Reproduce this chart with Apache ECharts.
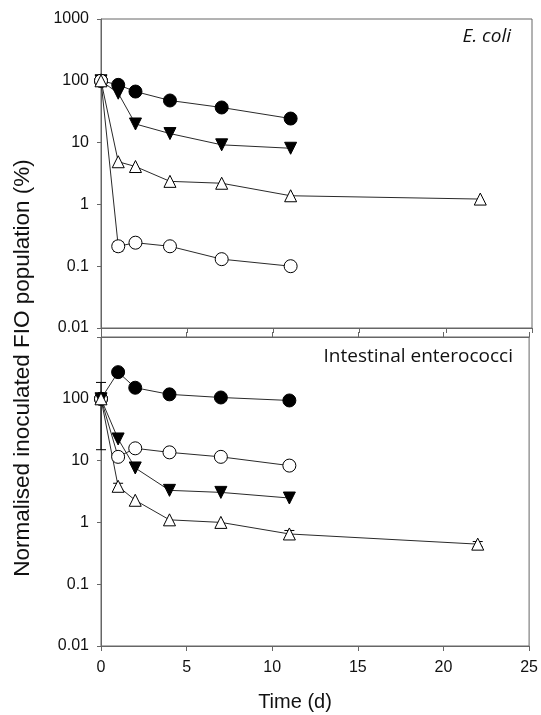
<!DOCTYPE html>
<html>
<head>
<meta charset="utf-8">
<script src="https://cdn.jsdelivr.net/npm/echarts@6/dist/echarts.min.js"></script>
<style>
html,body{margin:0;padding:0;background:#fff;}
#chart{width:541px;height:715px;}
</style>
</head>
<body>
<div id="chart"></div>
<script>
// ---- data ----
const days = [0, 1, 2, 4, 7, 11];
const daysLong = [0, 1, 2, 4, 7, 11, 22];
const xTicks = [0, 5, 10, 15, 20, 25];
const yTickLabels = ['0.01', '0.1', '1', '10', '100', '1000'];

// E. coli panel
const ecoliFilledCircle = [100, 86, 67, 48, 37, 24.5];
const ecoliFilledTriangle = [100, 63, 20, 14, 9.2, 8.1];
const ecoliOpenTriangle = [100, 4.9, 4.1, 2.36, 2.2, 1.38, 1.22];
const ecoliOpenCircle = [100, 0.21, 0.24, 0.21, 0.13, 0.1];
const ecoliErrors = [[1, 0.175, 0.25]];

// Intestinal enterococci panel
const entFilledCircle = [100, 270, 151, 118, 105, 94];
const entOpenCircle = [100, 11.5, 15.8, 13.6, 11.5, 8.3];
const entFilledTriangle = [100, 22.4, 7.6, 3.3, 3.06, 2.48];
const entOpenTriangle = [100, 3.84, 2.28, 1.1, 1.0, 0.65, 0.445];
const entErrors = [[0, 15, 184], [1, 3.4, 4.3], [11, 0.57, 0.74], [22, 0.40, 0.49]];

const panelTitles = ['E. coli', 'Intestinal enterococci'];
const yTitle = 'Normalised inoculated FIO population (%)';
const xTitle = 'Time (d)';

// ---- chart ----
const chart = echarts.init(document.getElementById('chart'));
const FONT = '"Liberation Sans", Arial, sans-serif';
const LINE = '#2a2a2a';
const FRAME = '#666';

function pairs(xs, ys) { return ys.map((v, i) => [xs[i], v]); }

function lineSeries(xs, ys, gi, symbol, filled, rotate, size) {
  return {
    type: 'line',
    xAxisIndex: gi === 0 ? 0 : 1,
    yAxisIndex: gi,
    data: pairs(xs, ys),
    symbol: symbol,
    symbolSize: size,
    symbolRotate: rotate,
    showAllSymbol: true,
    lineStyle: { color: LINE, width: 1 },
    itemStyle: { color: filled ? '#000' : '#fff', borderColor: '#000', borderWidth: 1 },
    emphasis: { disabled: true },
    animation: false,
    z: 3
  };
}

function errorSeries(data, gi) {
  return {
    type: 'custom',
    xAxisIndex: gi === 0 ? 0 : 1,
    yAxisIndex: gi,
    data: data,
    z: 2,
    animation: false,
    renderItem: function (params, api) {
      const x = api.value(0);
      const lo = api.coord([x, api.value(1)]);
      const hi = api.coord([x, api.value(2)]);
      const w = 5;
      const st = { stroke: '#000', lineWidth: 1 };
      return {
        type: 'group',
        children: [
          { type: 'line', shape: { x1: lo[0], y1: lo[1], x2: hi[0], y2: hi[1] }, style: st },
          { type: 'line', shape: { x1: lo[0] - w, y1: lo[1], x2: lo[0] + w, y2: lo[1] }, style: st },
          { type: 'line', shape: { x1: hi[0] - w, y1: hi[1], x2: hi[0] + w, y2: hi[1] }, style: st }
        ]
      };
    }
  };
}

function yAxis(gi) {
  return {
    type: 'log',
    logBase: 10,
    gridIndex: gi,
    min: 0.01,
    max: 1000,
    axisLine: { show: true, lineStyle: { color: FRAME, width: 1 } },
    axisTick: { show: true, inside: false, length: 4, lineStyle: { color: FRAME } },
    minorTick: { show: false },
    splitLine: { show: false },
    axisLabel: {
      fontFamily: FONT, fontSize: 16, color: '#111', margin: 12,
      formatter: function (v, i) {
        const lab = yTickLabels[i];
        if (gi === 1 && lab === '1000') return '';
        return lab;
      }
    }
  };
}

function xAxis(gi, position, showLabels) {
  return {
    type: 'value',
    gridIndex: gi,
    position: position,
    min: xTicks[0],
    max: xTicks[xTicks.length - 1],
    interval: 5,
    axisLine: { show: true, onZero: false, lineStyle: { color: FRAME, width: 1 } },
    axisTick: { show: true, inside: false, length: 5, lineStyle: { color: FRAME } },
    splitLine: { show: false },
    axisLabel: { show: showLabels, fontFamily: FONT, fontSize: 16, color: '#111', margin: 14 }
  };
}

const option = {
  backgroundColor: '#fff',
  animation: false,
  grid: [
    { left: 101, top: 19, width: 431, height: 309, show: true, borderColor: FRAME, borderWidth: 1, backgroundColor: 'transparent' },
    { left: 101, top: 337, width: 431, height: 309, show: true, borderColor: FRAME, borderWidth: 1, backgroundColor: 'transparent' }
  ],
  xAxis: [
    xAxis(0, 'bottom', false),
    xAxis(1, 'bottom', true),
    xAxis(1, 'top', false)
  ],
  yAxis: [yAxis(0), yAxis(1)],
  graphic: [
    {
      type: 'text', x: 23, y: 368, rotation: Math.PI / 2,
      style: { text: yTitle, font: '22.5px ' + FONT, fill: '#111', align: 'center', verticalAlign: 'middle' }
    },
    {
      type: 'text', x: 295, y: 702,
      style: { text: xTitle, font: '20px ' + FONT, fill: '#111', align: 'center', verticalAlign: 'middle' }
    },
    {
      type: 'text', x: 511, y: 37,
      style: { text: panelTitles[0], font: 'italic 19px "Open Sans", sans-serif', fill: '#111', align: 'right', verticalAlign: 'middle' }
    },
    {
      type: 'text', x: 513, y: 357,
      style: { text: panelTitles[1], font: '19px "Open Sans", sans-serif', fill: '#111', align: 'right', verticalAlign: 'middle' }
    }
  ],
  series: [
    errorSeries(ecoliErrors, 0),
    lineSeries(days, ecoliFilledCircle, 0, 'circle', true, 0, 13),
    lineSeries(days, ecoliFilledTriangle, 0, 'triangle', true, 180, 12),
    lineSeries(days, ecoliOpenCircle, 0, 'circle', false, 0, 13),
    lineSeries(daysLong, ecoliOpenTriangle, 0, 'triangle', false, 0, 12),
    errorSeries(entErrors, 1),
    lineSeries(days, entFilledCircle, 1, 'circle', true, 0, 13),
    lineSeries(days, entOpenCircle, 1, 'circle', false, 0, 13),
    lineSeries(days, entFilledTriangle, 1, 'triangle', true, 180, 12),
    lineSeries(daysLong, entOpenTriangle, 1, 'triangle', false, 0, 12)
  ]
};
chart.setOption(option);
</script>
</body>
</html>
